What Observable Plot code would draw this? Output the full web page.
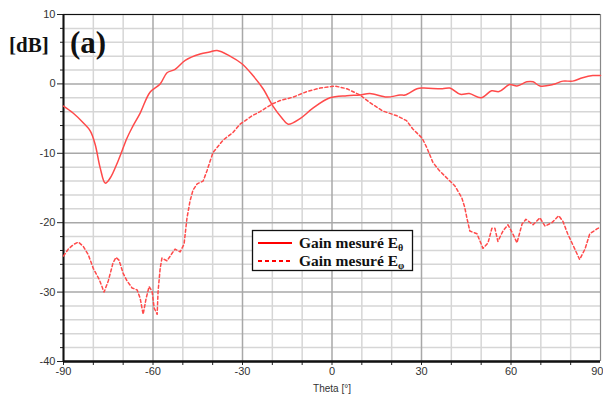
<!DOCTYPE html>
<html>
<head>
<meta charset="utf-8">
<script src="https://cdn.jsdelivr.net/npm/d3@7"></script>
<script src="https://cdn.jsdelivr.net/npm/@observablehq/plot@0.6"></script>
<style>
  html, body { margin: 0; padding: 0; background: #fff; }
  #chart { position: relative; width: 603px; height: 401px; }
</style>
</head>
<body>
<div id="chart"></div>
<script>
// Eθ (solid) measured gain
const thetaEtheta = [-90,-86.8,-83.4,-81,-79.4,-77.7,-76,-74.4,-71.7,-68.7,-67,-64.3,-61,-57.6,-55.3,-52.6,-49.2,-44.2,-41,-38.5,-34.2,-30.2,-26.5,-23.1,-19.8,-16.8,-14.7,-10.7,-6.4,-0.7,5,9.4,12.7,18.4,22.8,24.5,28.5,30.5,37,39.5,43,46,50,53.5,56,59.6,62,65.3,67.4,69.7,74,77.4,80.7,84,87.4,90];
const gainEtheta = [-3.2,-4.2,-5.6,-6.8,-8.7,-12.1,-14.3,-13.6,-11.1,-7.8,-6.3,-4.2,-1.2,0,1.6,2.1,3.4,4.3,4.6,4.8,4.0,2.9,1.2,-0.7,-3.2,-4.9,-5.8,-5.0,-3.5,-2.0,-1.7,-1.6,-1.4,-1.9,-1.6,-1.6,-0.7,-0.6,-0.7,-0.6,-1.5,-1.4,-2.0,-1.0,-1.1,-0.1,-0.3,0.3,0.3,-0.3,-0.1,0.4,0.4,0.9,1.2,1.2];

// Eφ (dashed) measured gain
const thetaEphi = [-90,-88.4,-86.5,-85,-83.4,-81.7,-80,-78,-76.4,-75,-73.4,-72.4,-71.4,-70,-68.7,-67,-65.3,-64.3,-63.3,-62.3,-61.3,-60.3,-59.6,-58.6,-58.3,-57.6,-57,-55.3,-53.6,-52.6,-50.9,-49.6,-49.2,-48.6,-47.6,-46.6,-45.2,-43.2,-41.9,-39.9,-36.5,-33.2,-30.8,-26.8,-24.1,-20.1,-17.4,-13,-8.4,-4,1,5,9.4,12.7,17,21.8,25,27.1,30.2,31.8,33.8,36,41.2,43.5,44.5,45.2,46.2,48.6,50.6,52.3,53.6,54.6,55.6,57.3,59,60.6,62,63.7,65,67.4,69.7,71.4,73.7,76,77.4,79,81.4,83,84.8,86.4,88.8,90];
const gainEphi = [-24.8,-23.8,-23.1,-22.8,-23.4,-24.6,-26.6,-28.2,-30.0,-28.4,-25.8,-25.0,-25.4,-27.3,-28.4,-29.4,-29.7,-30.9,-33.2,-30.9,-29.2,-29.9,-32.3,-33.2,-29.9,-26.6,-25.1,-25.5,-24.4,-23.8,-24.2,-23.1,-21.6,-19.3,-16.9,-15.3,-14.4,-14.0,-12.5,-9.9,-8.1,-7.0,-5.8,-4.6,-4.0,-2.9,-2.4,-1.9,-1.1,-0.6,-0.3,-0.7,-1.6,-2.7,-3.9,-4.6,-5.3,-6.5,-7.8,-9.2,-11.3,-12.5,-14.7,-16.4,-17.8,-19.3,-21.2,-21.6,-23.7,-22.9,-20.8,-20.8,-22.7,-21.2,-20.3,-21.6,-22.9,-20.2,-19.5,-20.3,-19.3,-20.5,-20.0,-19.0,-19.8,-21.6,-23.8,-25.3,-23.8,-21.6,-20.9,-20.6];

const xMajorTicks = [-90,-60,-30,0,30,60];
const xLastTick = [90];
const xMinorTicks = [-80,-70,-50,-40,-20,-10,10,20,40,50,70,80];
const yMajorTicks = [-40,-30,-20,-10,0,10];
const yMinorTicks = d3.range(-38, 10, 2).filter(v => v % 10 !== 0);
const xLabel = "Theta [°]";
const yLabel = "[dB]";
const panelLabel = "(a)";
const legendLabels = ["Gain mesuré E", "Gain mesuré E"];
const legendSubs = ["θ", "φ"];

const dataEtheta = thetaEtheta.map((t, i) => ({t, g: gainEtheta[i]}));
const dataEphi = thetaEphi.map((t, i) => ({t, g: gainEphi[i]}));

const red = "#ff4a4a";
const fmt = d => String(d);

const plot = Plot.plot({
  width: 603,
  height: 401,
  marginLeft: 63,
  marginRight: 3,
  marginTop: 14,
  marginBottom: 40,
  style: {fontFamily: "'Liberation Sans', Arial, sans-serif", fontSize: "11px", color: "#333", background: "#fff"},
  x: {domain: [-90, 90]},
  y: {domain: [-40, 10]},
  marks: [
    Plot.ruleY(yMinorTicks, {stroke: "#d6d6d6", strokeWidth: 1.5}),
    Plot.ruleX(xMinorTicks, {stroke: "#d6d6d6", strokeWidth: 1.5}),
    Plot.ruleY(yMajorTicks, {stroke: "#a8a8a8", strokeWidth: 1.5}),
    Plot.ruleX(xMajorTicks, {stroke: "#a8a8a8", strokeWidth: 1.5}),
    Plot.ruleY([10], {stroke: "#111", strokeWidth: 1.2}),
    Plot.ruleX(xLastTick, {stroke: "#888", strokeWidth: 1.2}),
    Plot.axisY(yMinorTicks, {tickSize: 3, tickFormat: () => "", stroke: "#222", label: null}),
    Plot.axisY(yMajorTicks, {tickSize: 6, tickFormat: fmt, stroke: "#222", fill: "#333", tickPadding: 2, label: null}),
    Plot.axisX(xMinorTicks, {tickSize: 4, tickFormat: () => "", stroke: "#222", label: null}),
    Plot.axisX(xMajorTicks, {tickSize: 4, tickFormat: fmt, stroke: "#222", fill: "#333", tickPadding: 2, label: null}),
    Plot.axisX(xLastTick, {tickSize: 4, tickFormat: fmt, stroke: "#222", fill: "#333", tickPadding: 2, label: null, textAnchor: "end", dx: 3}),
    Plot.ruleX([-90], {stroke: "#111", strokeWidth: 2}),
    Plot.ruleY([-40], {stroke: "#111", strokeWidth: 2.5}),
    Plot.line(dataEphi, {x: "t", y: "g", stroke: red, strokeWidth: 1.5, strokeDasharray: "3,2.5"}),
    Plot.line(dataEtheta, {x: "t", y: "g", stroke: red, strokeWidth: 1.5, curve: "catmull-rom"})
  ]
});

const svg = d3.select(plot);
// axis title
svg.append("text").attr("x", 332).attr("y", 392).attr("text-anchor", "middle")
  .attr("font-family", "'Liberation Sans', Arial, sans-serif").attr("font-size", 10).attr("fill", "#333")
  .text(xLabel);
// y label
svg.append("text").attr("x", 9).attr("y", 52).attr("text-anchor", "start")
  .attr("font-family", "'Liberation Serif', 'Times New Roman', serif").attr("font-weight", "bold")
  .attr("font-size", 21).attr("fill", "#111").text(yLabel);
// panel label
svg.append("text").attr("x", 70).attr("y", 53).attr("text-anchor", "start")
  .attr("font-family", "'Liberation Serif', 'Times New Roman', serif").attr("font-weight", "bold")
  .attr("font-size", 31).attr("fill", "#111").text(panelLabel);

// legend
const lg = svg.append("g").attr("text-anchor", "start");
lg.append("rect").attr("x", 252.5).attr("y", 230.5).attr("width", 160).attr("height", 40)
  .attr("fill", "#fff").attr("stroke", "#111").attr("stroke-width", 1.3);
[0, 1].forEach(i => {
  const yy = 243 + i * 18;
  lg.append("line").attr("x1", 258).attr("x2", 292).attr("y1", yy).attr("y2", yy)
    .attr("stroke", "#ff0000").attr("stroke-width", 2)
    .attr("stroke-dasharray", i === 1 ? "4,3" : null);
  const t = lg.append("text").attr("x", 299).attr("y", yy + 5).attr("text-anchor", "start")
    .attr("font-family", "'Liberation Serif', 'Times New Roman', serif").attr("font-weight", "bold")
    .attr("font-size", 15.5).attr("fill", "#111");
  t.append("tspan").text(legendLabels[i]);
  t.append("tspan").attr("font-size", 10).attr("dy", 3).text(legendSubs[i]);
});

document.getElementById("chart").appendChild(plot);
</script>
</body>
</html>
